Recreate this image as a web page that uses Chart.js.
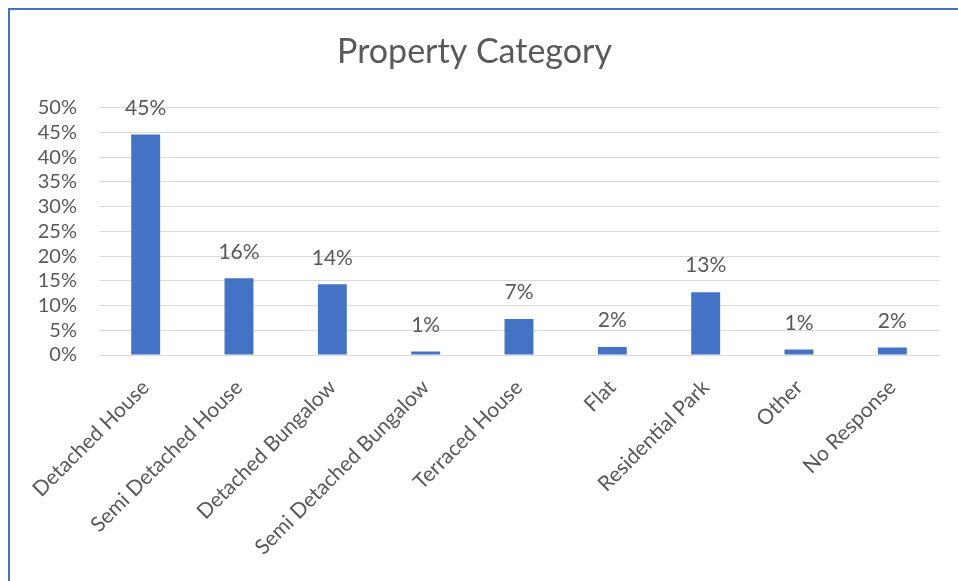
<!DOCTYPE html>
<html>
<head>
<meta charset="utf-8">
<script src="https://cdn.jsdelivr.net/npm/chart.js@4"></script>
<style>
  body { margin: 0; background: #fff; }
  #frame {
    position: absolute; left: 8px; top: 8px;
    width: 950px; height: 573px;
    border-left: 2px solid #4472C4; border-top: 2px solid #4472C4;
  }
  #chart { display: block; }
</style>
</head>
<body>
<div id="frame"><canvas id="chart" width="948" height="571"></canvas></div>
<script>
// chart data
const categories = ["Detached House", "Semi Detached House", "Detached Bungalow", "Semi Detached Bungalow",
  "Terraced House", "Flat", "Residential Park", "Other", "No Response"];
const shares = [44.6, 15.5, 14.3, 0.7, 7.3, 1.6, 12.7, 1.1, 1.5];
const yTicks = [0, 5, 10, 15, 20, 25, 30, 35, 40, 45, 50];

const textColor = "#595959";

// draws the % label above each bar
const barLabels = {
  id: "barLabels",
  afterDatasetsDraw(chart) {
    const ctx = chart.ctx;
    const meta = chart.getDatasetMeta(0);
    ctx.save();
    ctx.font = "21px Lato";
    ctx.fillStyle = textColor;
    ctx.textAlign = "center";
    ctx.textBaseline = "bottom";
    meta.data.forEach((bar, i) => {
      ctx.fillText(Math.round(shares[i]) + "%", bar.x, bar.y - 16);
    });
    ctx.restore();
  }
};

new Chart(document.getElementById("chart"), {
  type: "bar",
  data: {
    labels: categories,
    datasets: [{
      data: shares,
      backgroundColor: "#4472C4",
      barPercentage: 0.31,
      categoryPercentage: 1
    }]
  },
  options: {
    responsive: false,
    animation: false,
    layout: { padding: { left: 0, right: 19, top: 0, bottom: 0 } },
    plugins: {
      legend: { display: false },
      tooltip: { enabled: false },
      title: {
        display: true,
        text: "Property Category",
        color: textColor,
        font: { family: "Lato", size: 34, weight: "normal" },
        padding: { top: 22, bottom: 35 }
      }
    },
    scales: {
      x: {
        grid: { display: false },
        border: { color: "#d9d9d9" },
        ticks: {
          color: textColor,
          font: { family: "Lato", size: 21 },
          minRotation: 45,
          maxRotation: 45,
          padding: 12
        },
        afterFit(scale) { scale.height = 226; }
      },
      y: {
        min: 0,
        max: 50,
        afterBuildTicks(scale) { scale.ticks = yTicks.map(v => ({ value: v })); },
        grid: { color: "#d9d9d9", drawTicks: false },
        border: { display: false },
        ticks: {
          color: textColor,
          font: { family: "Lato", size: 20 },
          padding: 22,
          autoSkip: false,
          callback: v => v + "%"
        },
        afterFit(scale) { scale.width = 89; }
      }
    }
  },
  plugins: [barLabels]
});
</script>
</body>
</html>
